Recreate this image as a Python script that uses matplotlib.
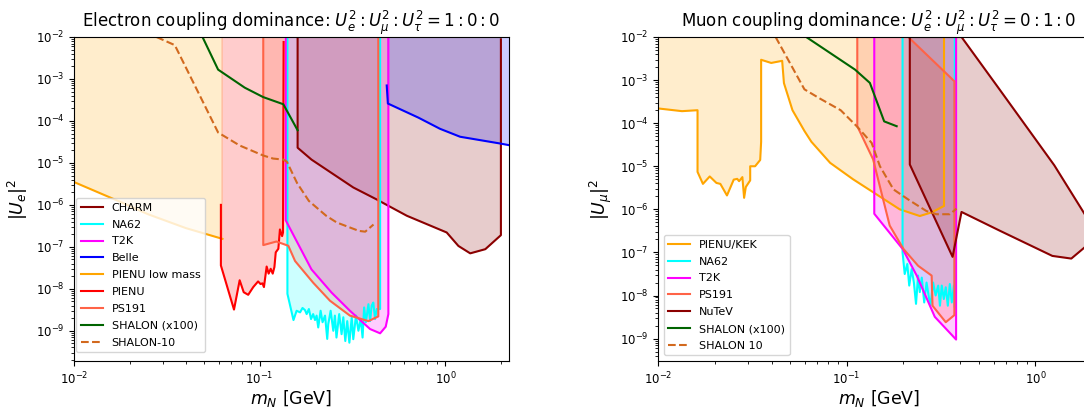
import matplotlib
matplotlib.use("Agg")
import matplotlib.pyplot as plt

TOP = 1e-2

# ---------------- Left panel: electron coupling ----------------
pienu_low_x = [0.01, 0.0176, 0.025, 0.04, 0.063]
pienu_low_y = [3.5e-6, 1.2e-6, 6.0e-7, 2.8e-7, 1.55e-7]

pienu_x = [0.0618, 0.0618, 0.0727, 0.078, 0.082, 0.0867, 0.0923, 0.098, 0.101, 0.1035,
           0.1054, 0.109, 0.1117, 0.1146, 0.1175, 0.12, 0.122, 0.126, 0.1285, 0.132,
           0.1335, 0.1345]
pienu_y = [1.0e-6, 3.6e-8, 3.2e-9, 1.6e-8, 8.3e-9, 7.2e-9, 1.1e-8, 1.5e-8, 1.3e-8, 1.35e-8,
           1.1e-8, 3.4e-8, 2.3e-8, 3.0e-8, 2.3e-8, 3.3e-8, 7.4e-8, 9.0e-8, 2.6e-7, 1.8e-7,
           2.2e-7, 7.6e-3]

ps191_e_x = [0.1045, 0.1045, 0.123, 0.1426, 0.155, 0.194, 0.239, 0.306, 0.385, 0.435, 0.435]
ps191_e_y = [1e-2, 1.1e-7, 1.34e-7, 1.06e-7, 4.6e-8, 1.4e-8, 5.2e-9, 2.3e-9, 1.7e-9, 2.2e-9, 1e-2]

na62_e_x = [0.141, 0.141, 0.152, 0.158, 0.165, 0.170, 0.1754, 0.179, 0.184, 0.189, 0.194,
            0.1985, 0.2025, 0.2066, 0.2128, 0.218, 0.2248, 0.231, 0.234, 0.241, 0.249,
            0.254, 0.259, 0.268, 0.276, 0.282, 0.289, 0.296, 0.304, 0.313, 0.319, 0.330,
            0.340, 0.350, 0.358, 0.365, 0.373, 0.385, 0.393, 0.401, 0.409, 0.418, 0.427,
            0.445, 0.445]
na62_e_y = [1e-2, 7.6e-9, 1.8e-9, 3.0e-9, 2.75e-9, 3.5e-9, 3.1e-9, 2.5e-9, 3.3e-9, 1.9e-9,
            2.5e-9, 1.8e-9, 2.3e-9, 1.2e-9, 3.0e-9, 1.6e-9, 2.3e-9, 6.4e-10, 1.44e-9, 3.0e-9,
            1.0e-9, 2.3e-9, 6.9e-10, 2.5e-9, 8.3e-10, 2.1e-9, 5.7e-10, 1.7e-9, 5.2e-10,
            2.1e-9, 6.3e-10, 2.3e-9, 1.0e-9, 1.9e-9, 6.9e-10, 3.6e-9, 1.6e-9, 4.3e-9,
            1.7e-9, 4.0e-9, 4.7e-9, 1.9e-9, 3.3e-9, 3.3e-9, 1e-2]

t2k_e_x = [0.138, 0.138, 0.19, 0.244, 0.306, 0.393, 0.445, 0.477, 0.493, 0.493]
t2k_e_y = [1e-2, 4.3e-7, 2.9e-8, 8.1e-9, 3.0e-9, 1.1e-9, 8.7e-10, 1.25e-9, 2.5e-9, 1e-2]

charm_x = [0.16, 0.16, 0.19, 0.319, 0.426, 0.493, 0.62, 1.016, 1.175, 1.36, 1.64, 1.99, 1.99]
charm_y = [1e-2, 2.3e-5, 1.2e-5, 2.6e-6, 1.35e-6, 9.5e-7, 5.5e-7, 2.2e-7, 1.05e-7, 7.0e-8,
           8.8e-8, 1.9e-7, 8.8e-3]

belle_x = [0.483, 0.49, 0.715, 0.935, 1.2, 1.97, 2.25]
belle_y = [7.0e-4, 2.6e-4, 1.2e-4, 6.5e-5, 4.2e-5, 2.9e-5, 2.6e-5]

shalon_e_x = [0.0492, 0.0597, 0.0831, 0.1044, 0.134, 0.16]
shalon_e_y = [1e-2, 1.67e-3, 6.2e-4, 3.7e-4, 2.5e-4, 6.0e-5]

shalon10_e_x = [0.0278, 0.0349, 0.0597, 0.078, 0.1045, 0.118, 0.134, 0.14, 0.159, 0.184,
                0.228, 0.26, 0.342, 0.37, 0.41]
shalon10_e_y = [1e-2, 6.4e-3, 5.3e-5, 2.6e-5, 1.5e-5, 1.27e-5, 1.2e-5, 1.07e-5, 3.3e-6,
                1.24e-6, 5.5e-7, 3.8e-7, 2.4e-7, 2.3e-7, 3.4e-7]

# ---------------- Right panel: muon coupling ----------------
kek_x = [0.01, 0.0134, 0.0162, 0.0162, 0.0173, 0.0188, 0.0204, 0.0214, 0.0232, 0.0252,
         0.0263, 0.0269, 0.028, 0.0286, 0.0292, 0.0308, 0.0308, 0.0327, 0.0348, 0.0352,
         0.0352, 0.0398, 0.0455, 0.0465, 0.0516, 0.0597, 0.065, 0.0817, 0.108, 0.138,
         0.191, 0.244, 0.282, 0.328, 0.328]
kek_y = [2.2e-4, 1.9e-4, 2.0e-4, 7.4e-6, 3.9e-6, 5.8e-6, 4.1e-6, 3.9e-6, 2.1e-6, 4.9e-6,
         5.1e-6, 4.5e-6, 5.6e-6, 1.85e-6, 3.3e-6, 4.7e-6, 1.0e-5, 1.0e-5, 1.4e-5, 3.7e-5,
         2.96e-3, 2.5e-3, 2.8e-3, 8.5e-4, 2.0e-4, 6.6e-5, 3.7e-5, 1.2e-5, 5.0e-6, 2.5e-6,
         1.0e-6, 7.0e-7, 8.5e-7, 1.2e-6, 1e-2]

na62_m_x = [0.1977, 0.1977, 0.203, 0.2095, 0.2145, 0.221, 0.227, 0.233, 0.239, 0.244, 0.25,
            0.2575, 0.265, 0.2715, 0.278, 0.287, 0.296, 0.3055, 0.312, 0.319, 0.327,
            0.335, 0.3435, 0.352, 0.3605, 0.37, 0.374, 0.374]
na62_m_y = [1e-2, 1.0e-7, 3.15e-8, 5.4e-8, 1.7e-8, 4.1e-8, 2.0e-8, 6.4e-9, 2.9e-8, 1.2e-8,
            2.6e-8, 6.9e-9, 2.0e-8, 1.0e-8, 5.8e-9, 2.0e-8, 1.0e-8, 1.7e-8, 5.8e-9, 1.7e-8,
            8.3e-9, 1.55e-8, 5.8e-9, 1.85e-8, 6.9e-9, 1.7e-8, 5.3e-9, 1e-2]

t2k_m_x = [0.14, 0.14, 0.198, 0.235, 0.293, 0.38, 0.38]
t2k_m_y = [1e-2, 7.9e-7, 1.2e-7, 2.9e-8, 3.2e-9, 9.5e-10, 1e-2]

ps191_m_x = [0.1138, 0.1138, 0.138, 0.169, 0.2, 0.239, 0.282, 0.285, 0.335, 0.372, 0.372, 0.212, 0.1138]
ps191_m_y = [1e-2, 8.5e-5, 1.45e-5, 4.2e-7, 1.2e-7, 4.9e-8, 2.9e-8, 5.8e-9, 2.4e-9, 3.5e-9,
             9.4e-4, 1e-2, 1e-2]

nutev_x = [0.216, 0.216, 0.364, 0.406, 0.647, 1.23, 1.55, 1.82, 2.15, 1.82, 1.26, 0.647, 0.406, 0.216]
nutev_y = [1e-2, 1.1e-5, 7.9e-8, 8.7e-7, 3.2e-7, 8.3e-8, 7.2e-8, 1.3e-7, 2.5e-7, 7.9e-7,
           1.05e-5, 6.0e-4, 1e-2, 1e-2]

shalon_m_x = [0.061, 0.1107, 0.1327, 0.158, 0.184]
shalon_m_y = [1e-2, 1.75e-3, 8.6e-4, 1.1e-4, 8.5e-5]

shalon10_m_x = [0.042, 0.0597, 0.0723, 0.0929, 0.113, 0.1355, 0.15, 0.177, 0.216, 0.265,
                0.299, 0.352, 0.382]
shalon10_m_y = [1e-2, 6.1e-4, 3.7e-4, 2.0e-4, 8.5e-5, 3.5e-5, 1.0e-5, 2.9e-6, 1.6e-6,
                9.1e-7, 7.7e-7, 7.7e-7, 1.04e-6]

# colours
C_CHARM = "darkred"
C_NA62 = "cyan"
C_T2K = "magenta"
C_BELLE = "blue"
C_PIENU_LOW = "orange"
C_PIENU = "red"
C_PS191 = "tomato"
C_SHALON = "darkgreen"
C_SHALON10 = "chocolate"
A = 0.2

fig = plt.figure(figsize=(10.84, 4.07), dpi=100)
ax1 = fig.add_axes([74 / 1084, 46 / 407, 435 / 1084, 324 / 407])
ax2 = fig.add_axes([658 / 1084, 46 / 407, 442 / 1084, 324 / 407])


def band(ax, x, y, c, label, lw=1.5):
    ax.fill_between(x, y, TOP, color=c, alpha=A, lw=0)
    ax.plot(x, y, color=c, lw=lw, label=label)


# left
band(ax1, charm_x, charm_y, C_CHARM, "CHARM")
band(ax1, na62_e_x, na62_e_y, C_NA62, "NA62")
band(ax1, t2k_e_x, t2k_e_y, C_T2K, "T2K")
band(ax1, belle_x, belle_y, C_BELLE, "Belle")
band(ax1, pienu_low_x, pienu_low_y, C_PIENU_LOW, "PIENU low mass")
band(ax1, pienu_x, pienu_y, C_PIENU, "PIENU")
band(ax1, ps191_e_x, ps191_e_y, C_PS191, "PS191")
ax1.plot(shalon_e_x, shalon_e_y, color=C_SHALON, lw=1.5, label="SHALON (x100)")
ax1.plot(shalon10_e_x, shalon10_e_y, color=C_SHALON10, lw=1.5, ls="--", label="SHALON-10")

# right
band(ax2, kek_x, kek_y, C_PIENU_LOW, "PIENU/KEK")
band(ax2, na62_m_x, na62_m_y, C_NA62, "NA62")
band(ax2, t2k_m_x, t2k_m_y, C_T2K, "T2K")
ax2.fill(ps191_m_x, ps191_m_y, color=C_PS191, alpha=A, lw=0)
ax2.plot(ps191_m_x, ps191_m_y, color=C_PS191, lw=1.5, label="PS191")
ax2.fill(nutev_x, nutev_y, color=C_CHARM, alpha=A, lw=0)
ax2.plot(nutev_x, nutev_y, color=C_CHARM, lw=1.5, label="NuTeV")
ax2.plot(shalon_m_x, shalon_m_y, color=C_SHALON, lw=1.5, label="SHALON (x100)")
ax2.plot(shalon10_m_x, shalon10_m_y, color=C_SHALON10, lw=1.5, ls="--", label="SHALON 10")

ax1.set_title(r"Electron coupling dominance: $U_e^2:U_\mu^2:U_\tau^2=1:0:0$", fontsize=12)
ax2.set_title(r"Muon coupling dominance: $U_e^2:U_\mu^2:U_\tau^2=0:1:0$", fontsize=12)
ax1.set_ylabel(r"$|U_e|^2$", fontsize=12.5)
ax2.set_ylabel(r"$|U_\mu|^2$", fontsize=12.5)

for ax, ylo in ((ax1, 10 ** -9.72), (ax2, 10 ** -9.52)):
    ax.set_xscale("log")
    ax.set_yscale("log")
    ax.set_xlim(0.01, 2.2)
    ax.set_ylim(ylo, TOP)
    ax.set_xlabel(r"$m_N$ [GeV]", fontsize=12.5, labelpad=0.5)
    ax.tick_params(labelsize=8.5)

ax1.legend(loc="lower left", fontsize=8, labelspacing=0.62, borderaxespad=0,
           bbox_to_anchor=(0.005, 0.027))
ax2.legend(loc="lower left", fontsize=8, labelspacing=0.62)

fig.savefig("out.png", dpi=100)
